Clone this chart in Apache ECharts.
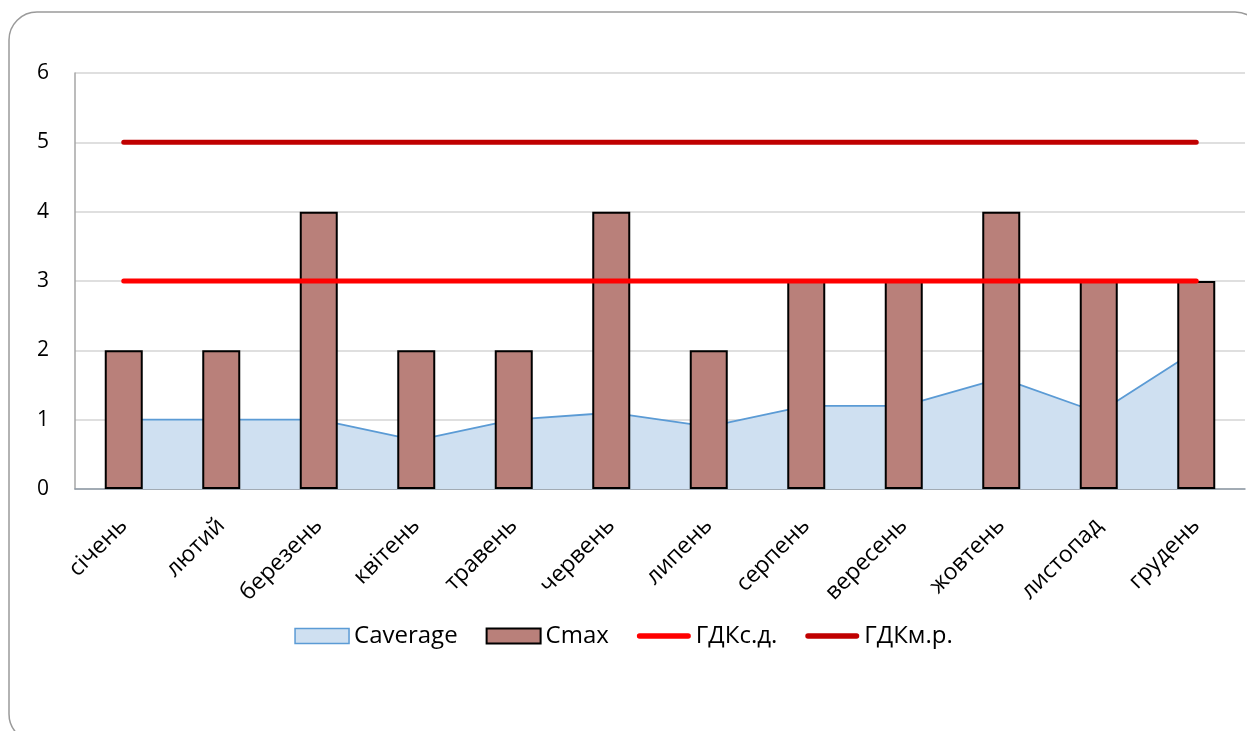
<!DOCTYPE html>
<html>
<head>
<meta charset="utf-8">
<script src="https://cdn.jsdelivr.net/npm/echarts@6/dist/echarts.min.js"></script>
<style>
  html, body { margin: 0; padding: 0; background: #ffffff; }
  #chart { width: 1247px; height: 731px; }
</style>
</head>
<body>
<div id="chart"></div>
<script>
// Monthly concentrations: average (area), maximum (bars) and two limit values
const months = ['січень', 'лютий', 'березень', 'квітень', 'травень', 'червень',
                'липень', 'серпень', 'вересень', 'жовтень', 'листопад', 'грудень'];
const cAverage = [1, 1, 1, 0.7, 1, 1.1, 0.9, 1.2, 1.2, 1.6, 1.1, 2.0];
const cMax     = [2, 2, 4, 2, 2, 4, 2, 3, 3, 4, 3, 3];
const gdkSd    = [3, 3, 3, 3, 3, 3, 3, 3, 3, 3, 3, 3];
const gdkMr    = [5, 5, 5, 5, 5, 5, 5, 5, 5, 5, 5, 5];
const yTicks   = { min: 0, max: 6, interval: 1 };

const FONT = '"Open Sans", "Noto Sans", sans-serif';
// thick rounded stroke used as the legend mark of the limit lines
const LINE_ICON = 'path://M2.75,0 L51.25,0 A2.75,2.75 0 0 1 51.25,5.5 L2.75,5.5 A2.75,2.75 0 0 1 2.75,0 Z';

const chart = echarts.init(document.getElementById('chart'), null, { renderer: 'canvas' });

chart.setOption({
  animation: false,
  backgroundColor: '#ffffff',
  textStyle: { fontFamily: FONT, color: '#000000' },
  graphic: [{
    type: 'rect',
    z: -10,
    silent: true,
    shape: { x: 9, y: 12, width: 1254, height: 730, r: 28 },
    style: { fill: 'none', stroke: '#9a9a9a', lineWidth: 1.5 }
  }],
  grid: { left: 75, right: 2, top: 73, bottom: 242, containLabel: false },
  legend: {
    bottom: 78,
    left: 'center',
    itemWidth: 54,
    itemHeight: 15,
    itemGap: 28,
    symbolKeepAspect: true,
    textStyle: { fontFamily: FONT, fontSize: 24, color: '#000000' },
    data: [
      { name: 'Caverage', icon: 'rect',
        itemStyle: { color: '#cfe0f1', borderColor: '#5b9bd5', borderWidth: 1.5 } },
      { name: 'Cmax', icon: 'rect',
        itemStyle: { color: '#b9807a', borderColor: '#000000', borderWidth: 2 } },
      { name: 'ГДКс.д.', icon: LINE_ICON,
        itemStyle: { color: '#ff0000', borderWidth: 0 } },
      { name: 'ГДКм.р.', icon: LINE_ICON,
        itemStyle: { color: '#c00000', borderWidth: 0 } }
    ]
  },
  xAxis: {
    type: 'category',
    data: months,
    boundaryGap: true,
    axisLine: { show: true, lineStyle: { color: '#8f9aa6', width: 1.5 } },
    axisTick: { show: false },
    axisLabel: {
      rotate: 45,
      margin: 33,
      fontSize: 23,
      fontFamily: FONT,
      color: '#000000',
      interval: 0
    },
    splitLine: { show: false }
  },
  yAxis: {
    type: 'value',
    min: yTicks.min,
    max: yTicks.max,
    interval: yTicks.interval,
    axisLine: { show: true, lineStyle: { color: '#a6a6a6', width: 1.5 } },
    axisTick: { show: false },
    axisLabel: { fontSize: 21, fontFamily: FONT, color: '#000000', margin: 26 },
    splitLine: { show: true, lineStyle: { color: '#d4d4d4', width: 1.5 } }
  },
  series: [
    {
      name: 'Caverage',
      type: 'line',
      data: cAverage,
      symbol: 'none',
      z: 1,
      lineStyle: { color: '#5b9bd5', width: 1.8 },
      itemStyle: { color: '#5b9bd5' },
      areaStyle: { color: '#cfe0f1', opacity: 1 }
    },
    {
      name: 'Cmax',
      type: 'bar',
      data: cMax,
      barWidth: 38,
      z: 2,
      itemStyle: { color: '#b9807a', borderColor: '#000000', borderWidth: 2 }
    },
    {
      name: 'ГДКс.д.',
      type: 'line',
      data: gdkSd,
      symbol: 'none',
      z: 3,
      lineStyle: { color: '#ff0000', width: 5, cap: 'round' },
      itemStyle: { color: '#ff0000' }
    },
    {
      name: 'ГДКм.р.',
      type: 'line',
      data: gdkMr,
      symbol: 'none',
      z: 3,
      lineStyle: { color: '#c00000', width: 5, cap: 'round' },
      itemStyle: { color: '#c00000' }
    }
  ]
});
</script>
</body>
</html>
